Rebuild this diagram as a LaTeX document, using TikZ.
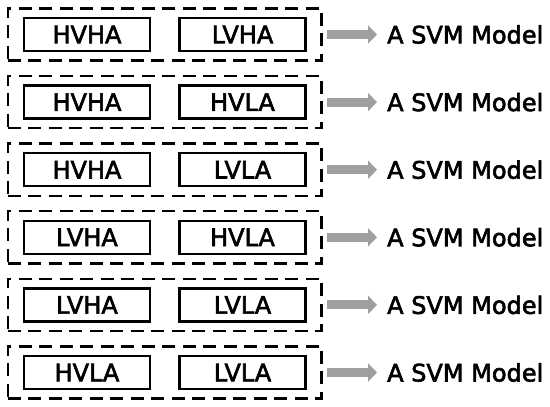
\documentclass[tikz,border=0pt]{standalone}
\usepackage{fontspec}
\setmainfont[FakeBold=2.5]{DejaVu Sans}
\usetikzlibrary{arrows.meta,fit,positioning}

\tikzset{
  labelbox/.style={draw, line width=2.3pt, minimum width=126pt, minimum height=33pt, inner sep=0pt, font=\fontsize{24}{28}\selectfont},
  pairgroup/.style={draw, line width=2.4pt, dash pattern=on 13pt off 7.5pt, inner xsep=15pt, inner ysep=8.5pt},
  modeltext/.style={inner sep=0pt, anchor=west, font=\fontsize{24}{28}\selectfont},
  feedarrow/.style={draw=gray!75, line width=9pt, -{Triangle[length=9pt, width=18pt]}, shorten <=4pt, shorten >=10pt}
}

\begin{document}
\begin{tikzpicture}[x=1pt, y=-1pt]
\path[use as bounding box] (0,0) rectangle (550,407);
\foreach \i/\a/\b in {0/HVHA/LVHA, 1/HVHA/HVLA, 2/HVHA/LVLA, 3/LVHA/HVLA, 4/LVHA/LVLA, 5/HVLA/LVLA} {
  \node[labelbox] (L\i) at (87, 34.5+67.6*\i) {\a};
  \node[labelbox] (R\i) at (242.5, 34.5+67.6*\i) {\b};
  \node[pairgroup, fit=(L\i)(R\i)] (G\i) {};
  \node[modeltext] (M\i) at (387, 34.5+67.6*\i) {A SVM Model};
  \draw[feedarrow] (G\i) -- (M\i);
}
\end{tikzpicture}
\end{document}
